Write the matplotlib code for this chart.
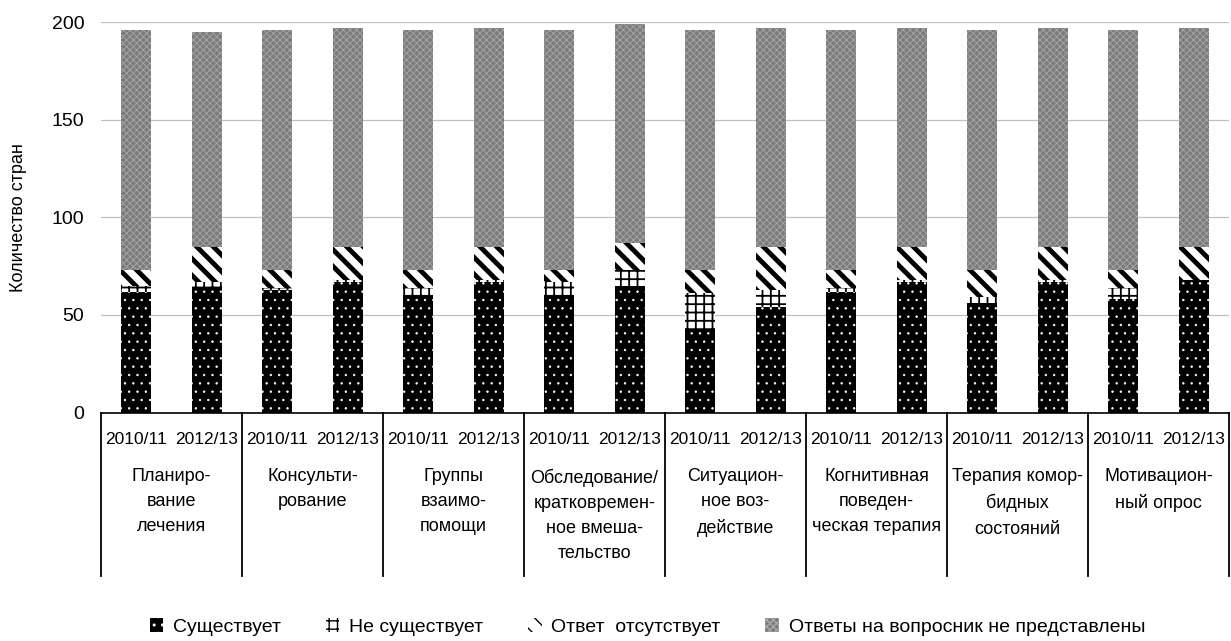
import matplotlib
matplotlib.use("Agg")
import matplotlib.pyplot as plt
from matplotlib.patches import Patch
from matplotlib import font_manager

# данные (число стран)
categories = [
    "Планиро-\nвание\nлечения",
    "Консульти-\nрование",
    "Группы\nвзаимо-\nпомощи",
    "Обследование/\nкратковремен-\nное вмеша-\nтельство",
    "Ситуацион-\nное воз-\nдействие",
    "Когнитивная\nповеден-\nческая терапия",
    "Терапия комор-\nбидных\nсостояний",
    "Мотивацион-\nный опрос",
]
years = ["2010/11", "2012/13"]
series_names = [
    "Существует",
    "Не существует",
    "Ответ  отсутствует",
    "Ответы на вопросник не представлены",
]

exists_1011 = [62, 63, 60, 60, 43, 62, 56, 58]
exists_1213 = [64, 67, 67, 65, 54, 67, 67, 68]
not_exists_1011 = [3, 1, 4, 7, 18, 2, 3, 6]
not_exists_1213 = [3, 1, 1, 8, 9, 1, 1, 0]
no_answer_1011 = [8, 9, 9, 6, 12, 9, 14, 9]
no_answer_1213 = [18, 17, 17, 14, 22, 17, 17, 17]
not_submitted_1011 = [123, 123, 123, 123, 123, 123, 123, 123]
not_submitted_1213 = [110, 112, 112, 112, 112, 112, 112, 112]

# шрифт
names = {f.name for f in font_manager.fontManager.ttflist}
family = ["Liberation Sans Narrow"] if "Liberation Sans Narrow" in names else []
plt.rcParams["font.family"] = family + ["Liberation Sans", "DejaVu Sans"]

def interleave(a, b):
    out = []
    for x, y in zip(a, b):
        out += [x, y]
    return out

s_exists = interleave(exists_1011, exists_1213)
s_not = interleave(not_exists_1011, not_exists_1213)
s_noans = interleave(no_answer_1011, no_answer_1213)
s_nosub = interleave(not_submitted_1011, not_submitted_1213)
xs = list(range(len(s_exists)))

styles = [
    dict(facecolor="black", edgecolor="white", hatch="..", hlw=0.5),
    dict(facecolor="white", edgecolor="black", hatch="++", hlw=1.3),
    dict(facecolor="white", edgecolor="black", hatch="\\\\", hlw=3.5),
    dict(facecolor="#7c7c7c", edgecolor="#a8a8a8", hatch="xxxxx", hlw=0.6),
]

fig = plt.figure(figsize=(12.31, 6.41), dpi=100)
ax = fig.add_axes([101 / 1231, (641 - 412.5) / 641, 1128 / 1231, 390.2 / 641])

bottom = [0] * len(xs)
handles = []
for vals, st, name in zip([s_exists, s_not, s_noans, s_nosub], styles, series_names):
    with plt.rc_context({"hatch.linewidth": st["hlw"]}):
        ax.bar(xs, vals, width=0.42, bottom=bottom, facecolor=st["facecolor"],
               edgecolor=st["edgecolor"], hatch=st["hatch"], linewidth=0, zorder=3)
        handles.append(Patch(facecolor=st["facecolor"], edgecolor=st["edgecolor"],
                             hatch=st["hatch"], linewidth=0, label=name))
    bottom = [b + v for b, v in zip(bottom, vals)]

ax.set_xlim(-0.5, len(xs) - 0.5)
ax.set_ylim(0, 200)
ax.set_yticks([0, 50, 100, 150, 200])
ax.yaxis.grid(True, color="#c0c0c0", linewidth=0.9, zorder=0)
ax.set_axisbelow(True)
for side in ["top", "right", "left"]:
    ax.spines[side].set_visible(False)
ax.spines["bottom"].set_color("black")
ax.spines["bottom"].set_linewidth(1.2)
ax.tick_params(axis="y", length=0, pad=12, labelsize=14)
ax.set_xticks(xs)
ax.set_xticklabels(years * len(categories))
ax.tick_params(axis="x", length=0, pad=14, labelsize=12.5)

ax.set_ylabel("Количество стран", fontsize=13)
ax.yaxis.set_label_coords(-0.066, 0.5)

# рамки категорий под осью
tr = ax.get_xaxis_transform()
for i in range(len(categories) + 1):
    ax.plot([2 * i - 0.5, 2 * i - 0.5], [0, -0.42], color="black", linewidth=1.3,
            transform=tr, clip_on=False)
for i, cat in enumerate(categories):
    ax.text(2 * i + 0.5, -0.143, cat, transform=tr, ha="center", va="top",
            fontsize=13, linespacing=1.62)

fig.legend(handles=handles, loc="center", bbox_to_anchor=(0.526, 0.022), ncol=4,
           frameon=False, fontsize=14, handlelength=0.7, handleheight=0.7,
           handletextpad=0.5, columnspacing=2.3)

fig.savefig("out.png", dpi=100, facecolor="white")
